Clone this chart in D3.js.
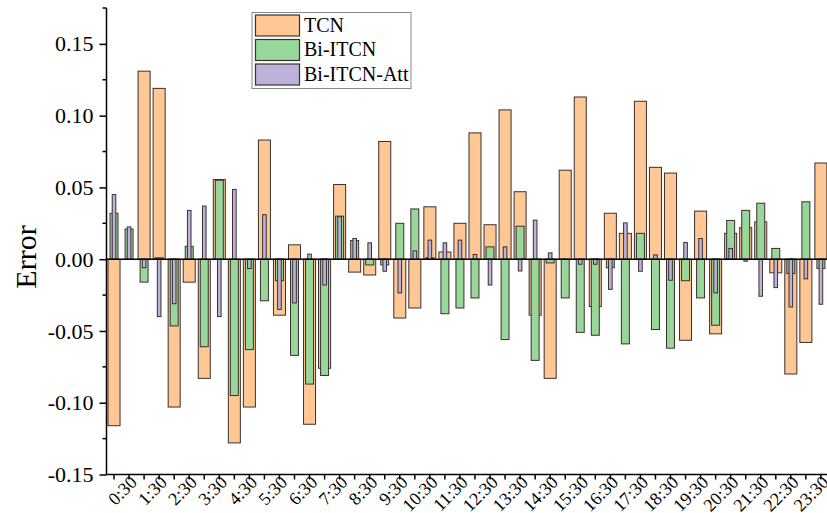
<!DOCTYPE html>
<html>
<head>
<meta charset="utf-8">
<script src="https://cdn.jsdelivr.net/npm/d3@7"></script>
<style>
  body { margin: 0; background: #fff; }
  text { font-family: "Liberation Serif", "Times New Roman", serif; fill: #000; }
</style>
</head>
<body>
<svg id="chart" width="827" height="513"></svg>
<script>
// half-hour slots, only the ":30" ones get a label
let slots = d3.range(48).map(i => Math.floor(i / 2) + ":" + (i % 2 ? "30" : "00"));
let seriesNames = ["TCN", "Bi-ITCN", "Bi-ITCN-Att"];
let yTicks = [-0.15, -0.10, -0.05, 0.00, 0.05, 0.10, 0.15];

let tcn = [-0.116, 0.0, 0.131, 0.119, -0.103, -0.016, -0.083, 0.0555, -0.128, -0.103, 0.083, -0.039,
    0.010, -0.115, -0.076, 0.052, -0.009, -0.011, 0.082, -0.041, -0.034, 0.0365, 0.005, 0.025,
    0.088, 0.024, 0.104, 0.047, -0.039, -0.083, 0.062, 0.113, -0.033, 0.032, 0.018, 0.110,
    0.064, 0.060, -0.0565, 0.0335, -0.052, 0.018, 0.022, 0.026, -0.0095, -0.080, -0.058, 0.067];
let biItcn = [0.032, 0.021, -0.016, 0.001, -0.0465, 0.009, -0.061, 0.055, -0.095, -0.063, -0.029, -0.015,
    -0.067, -0.087, -0.081, 0.030, 0.013, -0.004, -0.004, 0.025, 0.035, 0.001, -0.038, -0.034,
    -0.027, 0.0086, -0.056, 0.023, -0.0705, -0.0026, -0.027, -0.051, -0.053, -0.006, -0.059, 0.018,
    -0.049, -0.062, -0.015, -0.027, -0.046, 0.027, 0.034, 0.039, 0.0075, -0.010, 0.040, -0.0065];
let biItcnAtt = [0.045, 0.0225, -0.006, -0.040, -0.031, 0.034, 0.037, -0.040, 0.0486, -0.0065, 0.031, -0.035,
    -0.0305, 0.0035, -0.018, 0.0295, 0.0144, 0.0114, -0.0084, -0.0235, 0.0058, 0.0133, 0.0114, 0.0133,
    0.0033, -0.018, 0.0086, -0.0082, 0.0272, 0.0044, 0.0, -0.0035, -0.0035, -0.021, 0.0253, -0.0084,
    0.003, -0.0147, 0.0116, 0.0144, -0.0235, 0.0075, -0.0014, -0.0258, -0.0198, -0.0333, -0.0137, -0.0314];

let colors = ["#FFC794", "#98D69A", "#BDB3DA"];
let widths = [0.8, 0.53, 0.24];   // fraction of the slot width
let serif = "Liberation Serif, serif";

let svg = d3.select("#chart");
let plotLeft = 106.5, plotBottom = 474.5, plotTop = 8, step = 15.04;

let x = d3.scaleBand()
    .domain(slots)
    .range([plotLeft, plotLeft + slots.length * step])
    .padding(0);
let y = d3.scaleLinear()
    .domain([-0.15, 0.175])
    .range([plotBottom, plotTop]);

svg.append("clipPath").attr("id", "plot")
    .append("rect").attr("x", plotLeft).attr("y", 0).attr("width", 827 - plotLeft).attr("height", plotBottom);

let bars = svg.append("g").attr("clip-path", "url(#plot)");
[tcn, biItcn, biItcnAtt].forEach((vals, s) => {
    let w = x.bandwidth() * widths[s];
    bars.append("g").selectAll("rect")
        .data(vals)
        .join("rect")
        .attr("x", (d, i) => x(slots[i]) + x.bandwidth() / 2 - w / 2)
        .attr("y", d => y(Math.max(0, d)))
        .attr("width", w)
        .attr("height", d => Math.abs(y(d) - y(0)))
        .attr("fill", colors[s])
        .attr("stroke", "#3a3030")
        .attr("stroke-width", 1);
});

// zero line
svg.append("line")
    .attr("x1", plotLeft).attr("x2", 827)
    .attr("y1", y(0)).attr("y2", y(0))
    .attr("stroke", "#000").attr("stroke-width", 1.5);

// y axis: major ticks labelled, minor ticks in between
let yAxis = svg.append("g").attr("transform", "translate(" + plotLeft + ",0)");
yAxis.call(d3.axisLeft(y).tickValues(yTicks).tickSize(7).tickFormat(d3.format(".2f")));
yAxis.attr("font-family", serif).attr("font-size", 22);
yAxis.selectAll(".minor")
    .data([-0.125, -0.075, -0.025, 0.025, 0.075, 0.125, 0.175])
    .join("line").attr("class", "minor")
    .attr("x1", -4).attr("x2", 0)
    .attr("y1", d => y(d)).attr("y2", d => y(d))
    .attr("stroke", "#000").attr("stroke-width", 1.5);
yAxis.select(".domain").attr("d", "M0," + plotTop + "V" + plotBottom).attr("stroke-width", 1.5);
yAxis.selectAll(".tick line").attr("stroke-width", 1.5);
yAxis.selectAll(".tick text")
    .attr("x", -13)
    .text(d => d3.format(".2f")(d).replace("−", "-"));

// x axis
let xAxis = svg.append("g").attr("transform", "translate(0," + plotBottom + ")");
xAxis.call(d3.axisBottom(x).tickSize(5).tickFormat(d => d.endsWith(":30") ? d : ""));
xAxis.attr("font-family", serif).attr("font-size", 18);
xAxis.select(".domain").attr("d", "M" + plotLeft + ",0H827").attr("stroke-width", 1.5);
xAxis.selectAll(".tick line").attr("stroke-width", 1.5);
xAxis.selectAll(".tick text")
    .style("text-anchor", "end")
    .attr("y", 0).attr("dy", 0)
    .attr("transform", "translate(9,9) rotate(-45)");

svg.append("text")
    .attr("transform", "translate(36,257) rotate(-90)")
    .style("text-anchor", "middle")
    .style("font-size", "30px")
    .text("Error");

// legend
let legend = svg.append("g").attr("transform", "translate(252,12.5)");
legend.append("rect")
    .attr("width", 159).attr("height", 76)
    .attr("fill", "#fff").attr("stroke", "#888").attr("stroke-width", 1);
seriesNames.forEach((name, i) => {
    legend.append("rect")
        .attr("x", 3.5).attr("y", 2.5 + i * 24.5)
        .attr("width", 44).attr("height", 21)
        .attr("fill", colors[i]).attr("stroke", "#3a3030").attr("stroke-width", 1.2);
    legend.append("text")
        .attr("x", 52).attr("y", 19 + i * 24.5)
        .style("font-size", "20px")
        .text(name);
});
</script>
</body>
</html>
